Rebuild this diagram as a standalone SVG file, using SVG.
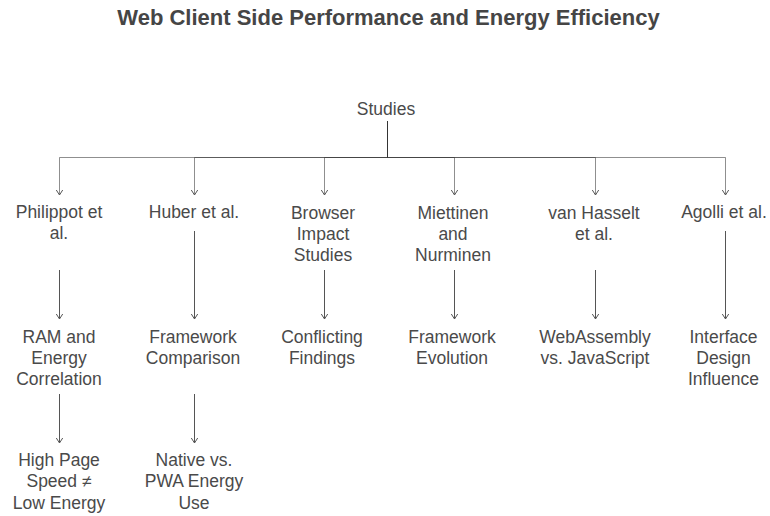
<svg xmlns="http://www.w3.org/2000/svg" width="770" height="516" viewBox="0 0 770 516">
  <style>
    .title { font-family: "Liberation Sans", Arial, sans-serif; font-size: 22px; font-weight: bold; fill: #454545; text-anchor: middle; }
    .lbl { font-family: "Liberation Sans", Arial, sans-serif; font-size: 17.5px; fill: #4a4a4a; text-anchor: middle; }
    .edge { fill: none; stroke: #333; stroke-opacity: 0.55; stroke-width: 1; }
    .link { fill: none; stroke: #555; stroke-width: 1; }
  </style>
  <defs>
    <!-- open chevron head, drawn along +x so orient="auto" turns it with the line -->
    <marker id="arrow" markerWidth="10" markerHeight="10" refX="6" refY="5" markerUnits="userSpaceOnUse" orient="auto" viewBox="0 0 10 10">
      <path d="M1,1.8 L6,5 L1,8.2" fill="none" stroke="#555" stroke-width="1"/>
    </marker>
  </defs>
  <rect width="770" height="516" fill="#fff"/>

  <text class="title" x="388.5" y="25">Web Client Side Performance and Energy Efficiency</text>

  <!-- connectors -->
  <g id="connectors">
    <!-- root to first row -->
    <path class="edge" d="M387.5,121 V157.5 H59.5 V195" marker-end="url(#arrow)"/>
    <path class="edge" d="M387.5,121 V157.5 H194.5 V195" marker-end="url(#arrow)"/>
    <path class="edge" d="M387.5,121 V157.5 H324.5 V195" marker-end="url(#arrow)"/>
    <path class="edge" d="M387.5,121 V157.5 H454.5 V195" marker-end="url(#arrow)"/>
    <path class="edge" d="M387.5,121 V157.5 H595.5 V195" marker-end="url(#arrow)"/>
    <path class="edge" d="M387.5,121 V157.5 H725.5 V195" marker-end="url(#arrow)"/>
    <!-- first row to second row -->
    <path class="link" d="M59.5,270 V319" marker-end="url(#arrow)"/>
    <path class="link" d="M194.5,231 V319" marker-end="url(#arrow)"/>
    <path class="link" d="M324.5,270 V319" marker-end="url(#arrow)"/>
    <path class="link" d="M454.5,270 V319" marker-end="url(#arrow)"/>
    <path class="link" d="M595.5,270 V319" marker-end="url(#arrow)"/>
    <path class="link" d="M725.5,231 V319" marker-end="url(#arrow)"/>
    <!-- second row to third row -->
    <path class="link" d="M59.5,394 V443" marker-end="url(#arrow)"/>
    <path class="link" d="M194.5,394 V443" marker-end="url(#arrow)"/>
  </g>

  <g id="studies">
    <text class="lbl" x="386" y="115">Studies</text>
  </g>

  <g id="philippot">
    <text class="lbl" x="59" y="218">Philippot et</text>
    <text class="lbl" x="59" y="239">al.</text>
  </g>
  <g id="huber">
    <text class="lbl" x="194" y="218">Huber et al.</text>
  </g>
  <g id="browser">
    <text class="lbl" x="323" y="219">Browser</text>
    <text class="lbl" x="323" y="240">Impact</text>
    <text class="lbl" x="323" y="261">Studies</text>
  </g>
  <g id="miettinen">
    <text class="lbl" x="453" y="219">Miettinen</text>
    <text class="lbl" x="453" y="240">and</text>
    <text class="lbl" x="453" y="261">Nurminen</text>
  </g>
  <g id="vanhasselt">
    <text class="lbl" x="594" y="219">van Hasselt</text>
    <text class="lbl" x="594" y="240">et al.</text>
  </g>
  <g id="agolli">
    <text class="lbl" x="724" y="218">Agolli et al.</text>
  </g>

  <g id="ram">
    <text class="lbl" x="59" y="343">RAM and</text>
    <text class="lbl" x="59" y="364">Energy</text>
    <text class="lbl" x="59" y="385">Correlation</text>
  </g>
  <g id="framework-comparison">
    <text class="lbl" x="193" y="343">Framework</text>
    <text class="lbl" x="193" y="364">Comparison</text>
  </g>
  <g id="conflicting">
    <text class="lbl" x="322" y="343">Conflicting</text>
    <text class="lbl" x="322" y="364">Findings</text>
  </g>
  <g id="framework-evolution">
    <text class="lbl" x="452" y="343">Framework</text>
    <text class="lbl" x="452" y="364">Evolution</text>
  </g>
  <g id="wasm">
    <text class="lbl" x="595" y="343">WebAssembly</text>
    <text class="lbl" x="595" y="364">vs. JavaScript</text>
  </g>
  <g id="interface">
    <text class="lbl" x="723.5" y="343">Interface</text>
    <text class="lbl" x="723.5" y="364">Design</text>
    <text class="lbl" x="723.5" y="385">Influence</text>
  </g>

  <g id="page-speed">
    <text class="lbl" x="59" y="466">High Page</text>
    <text class="lbl" x="59" y="487">Speed ≠</text>
    <text class="lbl" x="59" y="509">Low Energy</text>
  </g>
  <g id="native-pwa">
    <text class="lbl" x="194" y="466">Native vs.</text>
    <text class="lbl" x="194" y="487">PWA Energy</text>
    <text class="lbl" x="194" y="509">Use</text>
  </g>
</svg>
